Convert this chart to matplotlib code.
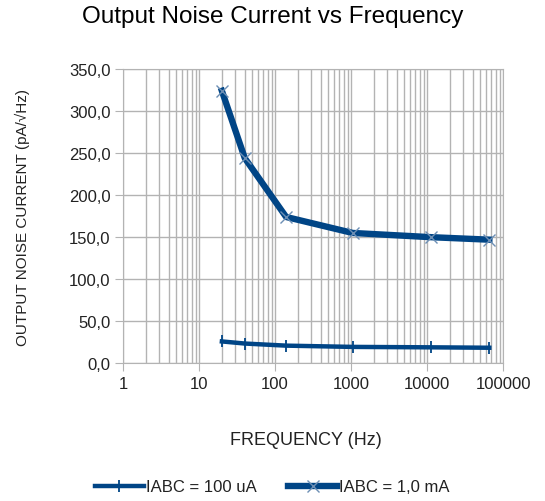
import matplotlib.pyplot as plt
from matplotlib.ticker import FuncFormatter, FixedLocator, LogLocator, NullFormatter

plt.rcParams["font.family"] = ["Liberation Sans", "DejaVu Sans"]

# data
freq = [20, 40, 140, 1050, 11200, 66000]
noise_100ua = [26.0, 23.5, 21.0, 19.5, 19.0, 18.5]
noise_1ma = [324.0, 244.0, 174.0, 155.0, 150.0, 147.0]
labels = ["IABC = 100 uA", "IABC = 1,0 mA"]
y_ticks = [0, 50, 100, 150, 200, 250, 300, 350]
x_ticks = [1, 10, 100, 1000, 10000, 100000]

blue = "#004586"
grid_c = "#b3b3b3"

fig = plt.figure(figsize=(5.45, 5.02), dpi=100)
ax = fig.add_axes([0.2257, 0.2743, 0.6973, 0.5863])

ax.plot(freq, noise_100ua, color=blue, lw=3.2, marker="|", ms=9, mew=1.3,
        label=labels[0])
ax.plot(freq, noise_1ma, color=blue, lw=4.6, marker="x", ms=8, mew=1.0,
        mec="#6d8fb5", label=labels[1])

ax.set_xscale("log")
ax.set_xlim(1, 100000)
ax.set_ylim(0, 350)
ax.xaxis.set_major_locator(FixedLocator(x_ticks))
ax.xaxis.set_minor_locator(LogLocator(base=10, subs=range(2, 10), numticks=20))
ax.xaxis.set_minor_formatter(NullFormatter())
ax.xaxis.set_major_formatter(FuncFormatter(lambda v, p: "%d" % round(v)))
ax.set_yticks(y_ticks)
ax.yaxis.set_major_formatter(FuncFormatter(lambda v, p: ("%.1f" % v).replace(".", ",")))

ax.grid(True, which="both", axis="x", color=grid_c, lw=1.0)
ax.grid(True, which="major", axis="y", color=grid_c, lw=1.0)
ax.set_axisbelow(True)
for s in ax.spines.values():
    s.set_color(grid_c)
ax.tick_params(axis="both", which="major", length=6, color=grid_c,
               labelsize=12, labelcolor="#222222", pad=3)
ax.tick_params(axis="x", which="minor", length=0)

ax.set_ylabel("OUTPUT NOISE CURRENT (pA/\u221aHz)", fontsize=11, color="#222222")
ax.yaxis.set_label_coords(-0.245, 0.5)
fig.text(0.561, 0.123, "FREQUENCY (Hz)", ha="center", va="center", fontsize=13,
         color="#222222")
fig.suptitle("Output Noise Current vs Frequency", y=0.988, fontsize=17.5)

fig.legend(loc="center", bbox_to_anchor=(0.5, 0.028), ncol=2, frameon=False,
           fontsize=12, handlelength=2.9, handletextpad=0.15, columnspacing=1.9,
           labelcolor="#222222")

fig.savefig("out.png", dpi=100)
